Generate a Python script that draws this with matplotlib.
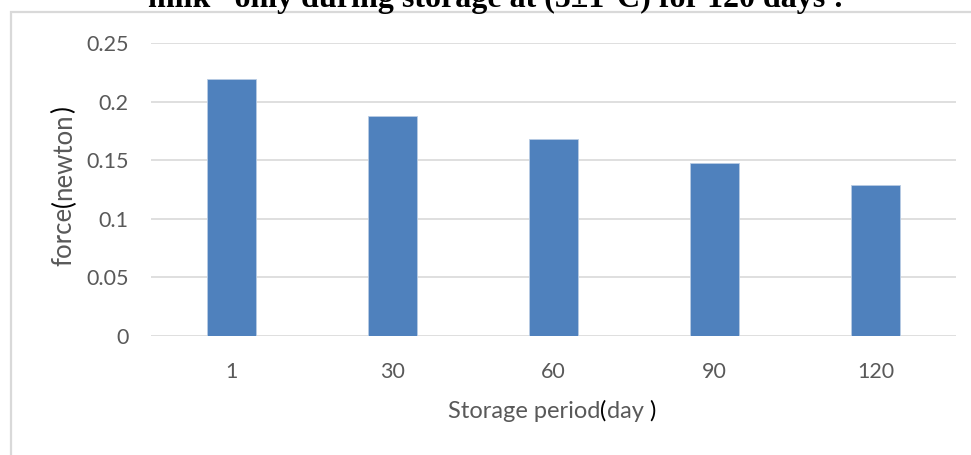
import matplotlib
matplotlib.use("Agg")
import matplotlib.pyplot as plt
from matplotlib.patches import Rectangle

categories = ["1", "30", "60", "90", "120"]
force = [0.219, 0.188, 0.168, 0.148, 0.129]
yticks = [0, 0.05, 0.1, 0.15, 0.2, 0.25]
ytick_labels = ["0", "0.05", "0.1", "0.15", "0.2", "0.25"]

W, H = 971, 455
fig = plt.figure(figsize=(W / 100, H / 100), dpi=100)
fig.patch.set_facecolor("white")

FONT = "Lato"
GRAY = "#595959"

# outer chart frame (cut off on right and bottom)
fig.add_artist(Rectangle((10.5 / W, -0.1), 1.2, (H - 12) / H + 0.1,
                         transform=fig.transFigure, fill=False,
                         edgecolor="#d9d9d9", linewidth=1.6))

ax = fig.add_axes([151 / W, (H - 336) / H, (956 - 151) / W, (336 - 43) / H])
x = list(range(len(categories)))
ax.bar(x, force, width=0.31, color="#4f81bd", edgecolor="#b8cce4",
       linewidth=0.6, zorder=3)
ax.set_xlim(-0.5, len(categories) - 0.5)
ax.set_ylim(0, 0.25)
ax.set_yticks(yticks)
ax.set_yticklabels(ytick_labels)
ax.set_xticks(x)
ax.set_xticklabels(categories)
ax.grid(axis="y", color="#d9d9d9", linewidth=1.2, zorder=0)
for s in ax.spines.values():
    s.set_visible(False)
ax.tick_params(axis="both", length=0, labelsize=15.5, labelcolor=GRAY)
ax.tick_params(axis="y", pad=16)
ax.tick_params(axis="x", pad=19)
for lab in ax.get_xticklabels() + ax.get_yticklabels():
    lab.set_fontfamily(FONT)


def chain(parts, start_xy, rotation, fs):
    prevt = None
    for txt, col in parts:
        if prevt is None:
            prevt = fig.text(start_xy[0], start_xy[1], txt, rotation=rotation,
                             fontsize=fs, family=FONT, color=col,
                             ha="left" if rotation == 0 else "center",
                             va="baseline" if rotation == 0 else "bottom")
        elif rotation == 0:
            prevt = ax.annotate(txt, xy=(1, 0), xycoords=prevt,
                                fontsize=fs, family=FONT, color=col,
                                ha="left", va="bottom",
                                annotation_clip=False)
        else:
            prevt = ax.annotate(txt, xy=(0.5, 1), xycoords=prevt,
                                rotation=90, fontsize=fs, family=FONT,
                                color=col, ha="center", va="bottom",
                                annotation_clip=False)
    return prevt


chain([("force", GRAY), ("(", "black"), ("newton", GRAY), (")", "black")],
      (64 / W, (H - 266) / H), 90, 18.5)
chain([("Storage period", GRAY), ("(", "black"), ("day", GRAY), (" )", "black")],
      (448 / W, (H - 418) / H), 0, 17)

# title (cut off at top, as in the reference)
fig.text(496 / W, (H - 7) / H,
         "milk\u201d only during storage at (5\u00b11\u00b0C) for 120 days :",
         fontsize=23, fontweight="bold", family="Liberation Serif",
         ha="center", va="baseline", color="black")

fig.savefig("out.png", dpi=100)
